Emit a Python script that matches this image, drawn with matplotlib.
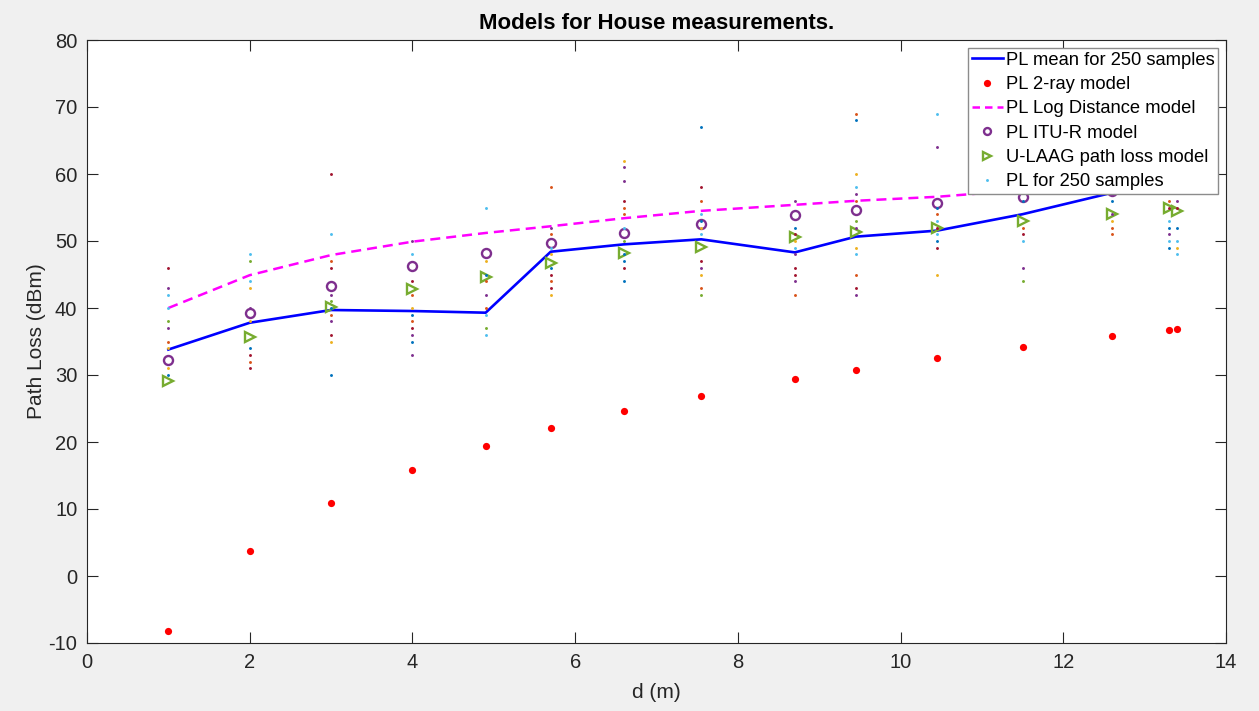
import matplotlib
matplotlib.use("Agg")
import matplotlib.pyplot as plt
from matplotlib.lines import Line2D

# ---------------- data ----------------
distances = [1.0, 2.0, 3.0, 4.0, 4.9, 5.7, 6.6, 7.55, 8.7, 9.45, 10.45, 11.5, 12.6, 13.3, 13.4]
pl_mean = [33.8, 37.8, 39.7, 39.55, 39.3, 48.4, 49.5, 50.25, 48.3, 50.65, 51.55, 54.0, 57.2, 58.0, 58.4]
pl_2ray = [-8.2, 3.7, 10.9, 15.8, 19.4, 22.1, 24.6, 26.9, 29.35, 30.75, 32.5, 34.2, 35.8, 36.7, 36.8]
pl_logdist = [40.0, 44.9, 47.9, 49.9, 51.2, 52.2, 53.4, 54.5, 55.4, 56.0, 56.6, 57.6, 58.3, 58.7, 58.7]
pl_itur = [32.3, 39.2, 43.3, 46.2, 48.2, 49.65, 51.15, 52.5, 53.9, 54.7, 55.7, 56.6, 57.5, 58.2, 58.3]
pl_ulaag = [29.1, 35.7, 40.2, 42.8, 44.7, 46.7, 48.2, 49.1, 50.6, 51.4, 52.0, 53.0, 54.1, 55.0, 54.5]

# measured samples per distance (visible distinct values) and their colour index
sample_values = [
    [46, 43, 42, 40, 38, 37, 35, 34, 31, 30],
    [48, 47, 44, 43, 40, 38, 34, 33, 32, 31],
    [60, 51, 47, 46, 42, 41, 40, 39, 38, 36, 35, 30],
    [50, 48, 44, 42, 40, 39, 38, 37, 36, 35, 33],
    [55, 47, 45, 44, 42, 40, 39, 37, 36],
    [58, 52, 51, 49, 48, 46, 45, 44, 43, 42],
    [62, 61, 59, 56, 55, 54, 52, 50, 48, 47, 46, 44],
    [67, 58, 56, 54, 53, 52, 51, 47, 46, 45, 43, 42],
    [56, 52, 51, 50, 49, 48, 46, 45, 44, 42],
    [69, 68, 60, 58, 57, 56, 53, 52, 49, 48, 45, 43, 42],
    [69, 64, 55, 54, 53, 52, 51, 50, 49, 45],
    [56, 52, 51, 50, 46, 44],
    [56, 54, 53, 52, 51],
    [56, 55, 53, 52, 51, 50, 49],
    [56, 55, 52, 50, 49, 48],
]
sample_color_idx = [
    [6, 3, 5, 5, 4, 3, 1, 2, 2, 0],
    [5, 4, 5, 2, 3, 2, 0, 6, 1, 6],
    [6, 5, 1, 6, 3, 4, 0, 1, 3, 6, 2, 0],
    [3, 5, 6, 1, 2, 0, 1, 6, 3, 0, 3],
    [5, 2, 0, 1, 3, 1, 5, 4, 5],
    [1, 3, 1, 5, 2, 0, 6, 1, 6, 2],
    [2, 3, 3, 6, 1, 1, 5, 4, 0, 0, 6, 0],
    [0, 6, 1, 5, 0, 2, 5, 6, 3, 2, 1, 4],
    [3, 0, 6, 2, 5, 3, 6, 6, 3, 1],
    [1, 0, 2, 5, 3, 1, 4, 3, 2, 5, 1, 6, 3],
    [5, 3, 0, 1, 5, 6, 5, 0, 6, 2],
    [0, 1, 6, 5, 3, 4],
    [0, 3, 2, 1, 1],
    [1, 6, 5, 0, 3, 5, 0],
    [3, 6, 0, 5, 2, 5],
]
matlab_colors = ["#0072BD", "#D95319", "#EDB120", "#7E2F8E", "#77AC30", "#4DBEEE", "#A2142F"]

x_ticks = [0, 2, 4, 6, 8, 10, 12, 14]
y_ticks = [-10, 0, 10, 20, 30, 40, 50, 60, 70, 80]

# ---------------- figure ----------------
plt.rcParams['font.family'] = ['Liberation Sans', 'DejaVu Sans']
plt.rcParams['axes.unicode_minus'] = False

fig = plt.figure(figsize=(12.59, 7.11), dpi=100, facecolor="#f0f0f0")
ax = fig.add_axes([87 / 1259, 1 - 643 / 711, (1226 - 87) / 1259, (643 - 40) / 711])
ax.set_facecolor("white")

ax.plot(distances, pl_mean, color=(0, 0, 1), lw=1.9, zorder=3)
ax.plot(distances, pl_2ray, linestyle="none", marker="o", markersize=5.2,
        color=(1, 0, 0), markeredgewidth=0, zorder=3)
ax.plot(distances, pl_logdist, color=(1, 0, 1), lw=1.8, linestyle=(0, (4.0, 2.4)), zorder=3)
ax.plot(distances, pl_itur, linestyle="none", marker="o", markersize=6.5,
        markerfacecolor="none", markeredgecolor="#7E2F8E", markeredgewidth=1.7, zorder=3)
ax.plot(distances, pl_ulaag, linestyle="none", marker=">", markersize=7.5,
        markerfacecolor="none", markeredgecolor="#77AC30", markeredgewidth=1.7, zorder=3)

for d, vals, cidx in zip(distances, sample_values, sample_color_idx):
    for v, c in zip(vals, cidx):
        ax.plot([d], [v], linestyle="none", marker="o", markersize=2.1,
                markeredgewidth=0, color=matlab_colors[c], zorder=4)

ax.set_xlim(0, 14)
ax.set_ylim(-10, 80)
ax.set_xticks(x_ticks)
ax.set_yticks(y_ticks)
ax.tick_params(direction="in", length=8, width=0.8, color="#262626",
               labelsize=14.5, labelcolor="#262626", top=True, right=True, pad=7)
for s in ax.spines.values():
    s.set_color("#262626")
    s.set_linewidth(0.8)

ax.set_title("Models for House measurements.", fontsize=16, fontweight="bold", pad=8)
ax.set_xlabel("d (m)", fontsize=15, color="#262626", labelpad=8)
ax.set_ylabel("Path Loss (dBm)", fontsize=15, color="#262626", labelpad=2)

handles = [
    Line2D([], [], color=(0, 0, 1), lw=1.9),
    Line2D([], [], linestyle="none", marker="o", markersize=5.2, color=(1, 0, 0), markeredgewidth=0),
    Line2D([], [], color=(1, 0, 1), lw=1.8, linestyle=(0, (3.0, 2.0))),
    Line2D([], [], linestyle="none", marker="o", markersize=5, markerfacecolor="none",
           markeredgecolor="#7E2F8E", markeredgewidth=1.7),
    Line2D([], [], linestyle="none", marker=">", markersize=6, markerfacecolor="none",
           markeredgecolor="#77AC30", markeredgewidth=1.7),
    Line2D([], [], linestyle="none", marker="o", markersize=2.1, color="#4DBEEE", markeredgewidth=0),
]
labels = ["PL mean for 250 samples", "PL 2-ray model", "PL Log Distance model",
          "PL ITU-R model", "U-LAAG path loss model", "PL for 250 samples"]
leg = ax.legend(handles, labels, loc="upper right",
                bbox_to_anchor=((1218 - 87) / 1139, (643 - 48) / 603),
                borderaxespad=0, fontsize=13.2, frameon=True, fancybox=False,
                framealpha=1, edgecolor="#8c8c8c", handlelength=1.7,
                handletextpad=0.15, labelspacing=0.4, borderpad=0.2)
leg.get_frame().set_linewidth(1.0)
leg.set_zorder(10)

fig.savefig("out.png", dpi=100, facecolor=fig.get_facecolor())
